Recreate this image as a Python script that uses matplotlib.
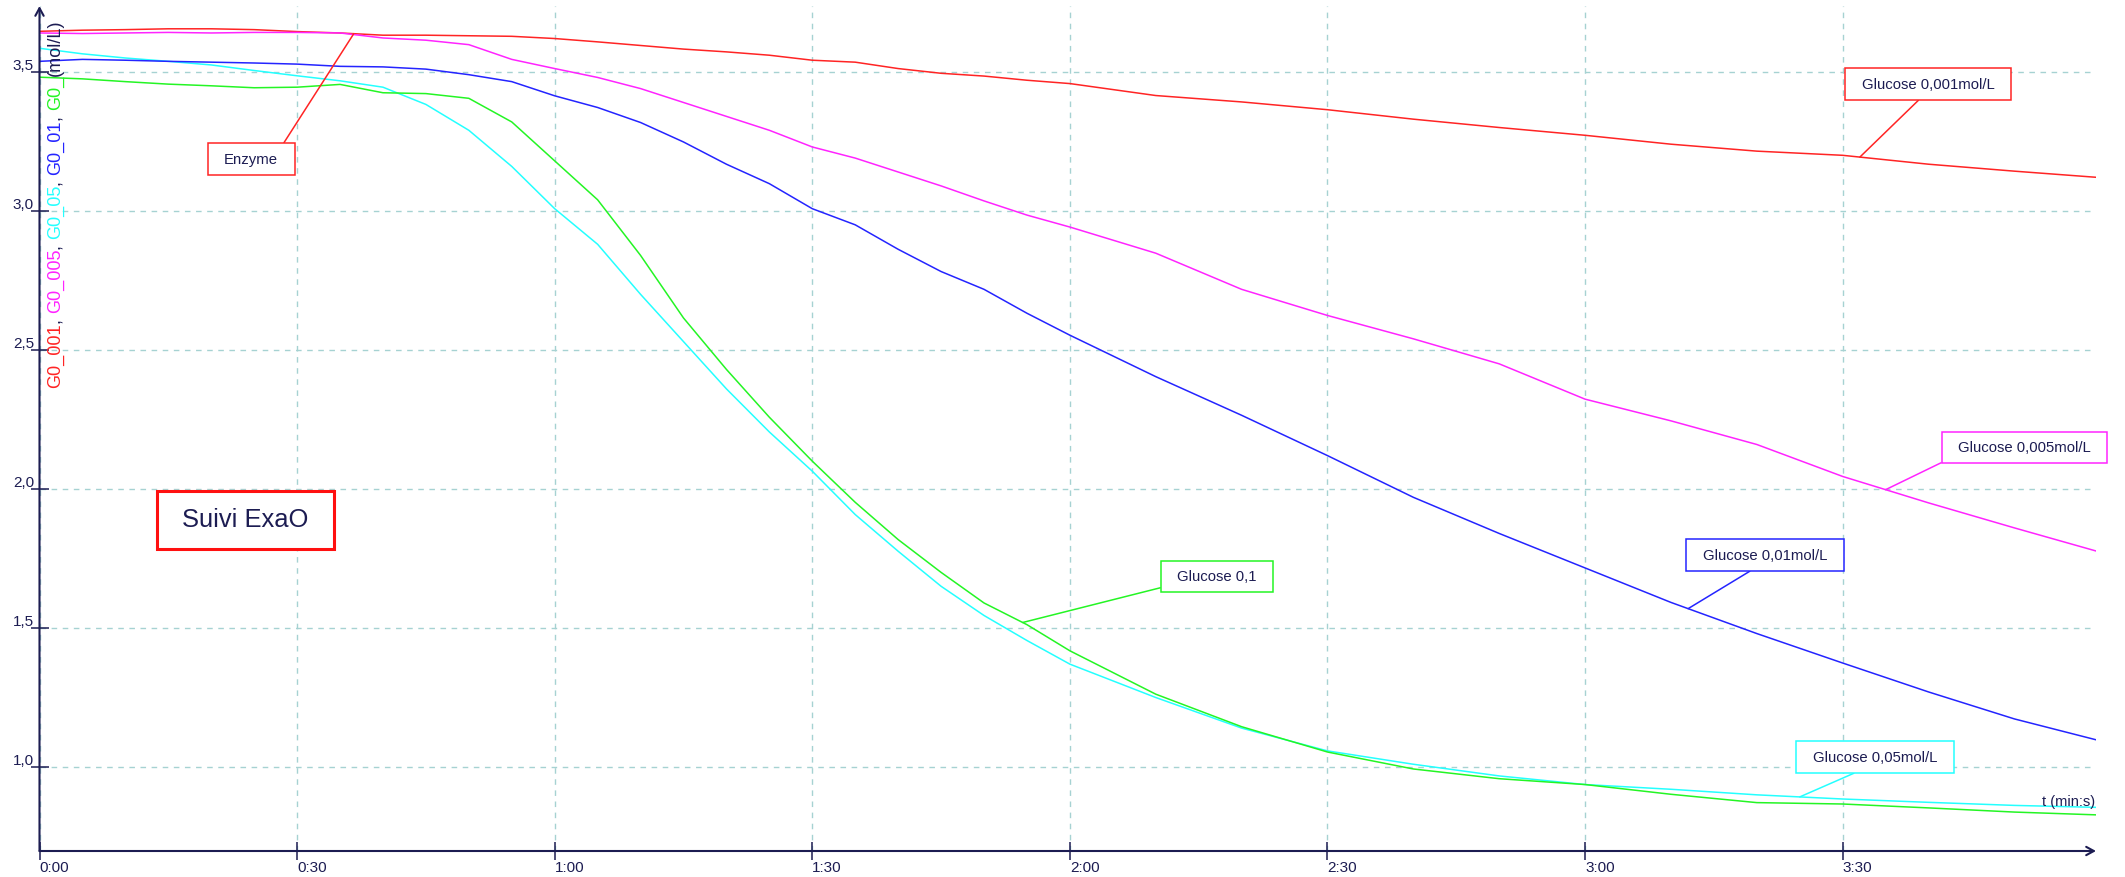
import numpy as np
import matplotlib
matplotlib.use("Agg")
import matplotlib.pyplot as plt
from matplotlib.path import Path
from matplotlib.transforms import IdentityTransform

plt.rcParams["font.family"] = ["Liberation Sans", "DejaVu Sans"]

# time in seconds, concentrations in mol/L
t_s = [0, 5, 10, 15, 20, 25, 30, 35, 40, 45, 50, 55, 60, 65, 70, 75, 80, 85, 90, 95,
       100, 105, 110, 115, 120, 130, 140, 150, 160, 170, 180, 190, 200, 210, 220, 230, 239.5]

g0_001 = [3.646, 3.650, 3.652, 3.655, 3.655, 3.652, 3.645, 3.640, 3.632, 3.632, 3.630, 3.628,
          3.620, 3.608, 3.595, 3.582, 3.572, 3.560, 3.542, 3.535, 3.512, 3.495, 3.485, 3.470,
          3.458, 3.415, 3.392, 3.364, 3.330, 3.300, 3.272, 3.240, 3.215, 3.200, 3.168, 3.143, 3.121]
g0_005 = [3.640, 3.638, 3.640, 3.642, 3.640, 3.642, 3.642, 3.640, 3.622, 3.614, 3.598, 3.545,
          3.512, 3.480, 3.440, 3.390, 3.340, 3.290, 3.230, 3.190, 3.140, 3.090, 3.036, 2.985,
          2.942, 2.848, 2.718, 2.624, 2.540, 2.450, 2.323, 2.245, 2.160, 2.045, 1.950, 1.860, 1.777]
g0_01 = [3.538, 3.545, 3.542, 3.538, 3.535, 3.532, 3.528, 3.520, 3.518, 3.510, 3.490, 3.465,
         3.414, 3.372, 3.318, 3.248, 3.168, 3.098, 3.008, 2.950, 2.862, 2.782, 2.718, 2.632,
         2.553, 2.404, 2.265, 2.120, 1.970, 1.840, 1.716, 1.592, 1.480, 1.374, 1.270, 1.173, 1.098]
g0_05 = [3.585, 3.565, 3.550, 3.538, 3.525, 3.505, 3.486, 3.468, 3.445, 3.383, 3.290, 3.160,
         3.008, 2.880, 2.700, 2.530, 2.360, 2.205, 2.064, 1.908, 1.776, 1.650, 1.545, 1.455,
         1.370, 1.250, 1.140, 1.058, 1.010, 0.968, 0.937, 0.920, 0.900, 0.885, 0.873, 0.862, 0.855]
g0_1 = [3.481, 3.475, 3.465, 3.456, 3.450, 3.443, 3.445, 3.455, 3.425, 3.422, 3.405, 3.320,
        3.180, 3.040, 2.840, 2.615, 2.430, 2.258, 2.100, 1.952, 1.818, 1.700, 1.590, 1.512,
        1.418, 1.262, 1.145, 1.054, 0.993, 0.958, 0.937, 0.902, 0.872, 0.867, 0.853, 0.838, 0.828]

x_ticks = [0, 30, 60, 90, 120, 150, 180, 210]
x_labels = ["0:00", "0:30", "1:00", "1:30", "2:00", "2:30", "3:00", "3:30"]
y_ticks = [1.0, 1.5, 2.0, 2.5, 3.0, 3.5]
y_labels = ["1,0", "1,5", "2,0", "2,5", "3,0", "3,5"]

RED, MAGENTA, BLUE, CYAN, GREEN = "#ff2424", "#ff24ff", "#2424ff", "#24ffff", "#24f524"
NAVY = "#1c1c52"

series = [(g0_001, RED), (g0_005, MAGENTA), (g0_05, CYAN), (g0_01, BLUE), (g0_1, GREEN)]

W, H, DPI = 2125, 878, 100
fig = plt.figure(figsize=(W / DPI, H / DPI), dpi=DPI)
ax = fig.add_axes([39.5 / W, 26 / H, (2096 - 39.5) / W, (852 - 7) / H])
ax.set_xlim(0, 239.5)
ax.set_ylim(0.698, 3.737)

for vals, col in series:
    ax.plot(t_s, vals, color=col, lw=1.1, zorder=3)

# grid + axes with arrow heads
ax.set_axisbelow(True)
ax.grid(True, color="#a6d2d2", linestyle=(0, (4, 4)), linewidth=1.0)
for sp in ax.spines.values():
    sp.set_visible(False)
arrow = dict(arrowstyle="->,head_length=0.55,head_width=0.3", color=NAVY, lw=1.5,
             shrinkA=0, shrinkB=0)
ax.annotate("", xy=(1, 0), xytext=(0, 0), xycoords="axes fraction", arrowprops=arrow,
            annotation_clip=False)
ax.annotate("", xy=(0, 1), xytext=(0, 0), xycoords="axes fraction", arrowprops=arrow,
            annotation_clip=False)

ax.set_xticks(x_ticks, labels=x_labels)
ax.set_yticks(y_ticks, labels=y_labels)
ax.tick_params(direction="inout", length=12.5, width=1.1, color=NAVY, labelcolor=NAVY,
               labelsize=11)
ax.tick_params(axis="x", pad=0)
ax.tick_params(axis="y", pad=-2.3)
for lab in ax.get_xticklabels():
    lab.set_ha("left")
for lab in ax.get_yticklabels():
    lab.set_va("bottom")


def pad_box(px, py):
    def style(x0, y0, width, height, mutation_size):
        return Path([(x0 - px, y0 - py), (x0 + width + px, y0 - py),
                     (x0 + width + px, y0 + height + py), (x0 - px, y0 + height + py),
                     (x0 - px, y0 - py)], closed=True)
    return style


def callout(text, t, vals, col, center, relpos):
    v = np.interp(t, t_s, vals)
    ax.annotate(text, xy=(t, v), xycoords="data", xytext=center, textcoords="figure pixels",
                ha="center", va="center", fontsize=10.7, color=NAVY, zorder=5,
                bbox=dict(boxstyle=pad_box(16.5, 8.7), fc="white", ec=col, lw=1.1),
                arrowprops=dict(arrowstyle="-", color=col, lw=1.1, relpos=relpos,
                                shrinkA=0, shrinkB=0))


callout("Enzyme", 36.6, g0_001, RED, (251, 718), (1, 1))
callout("Glucose 0,001mol/L", 212, g0_001, RED, (1928, 793), (0.5, 0))
callout("Glucose 0,005mol/L", 215, g0_005, MAGENTA, (2024.5, 429.5), (0, 0))
callout("Glucose 0,01mol/L", 192, g0_01, BLUE, (1765, 322), (0.5, 0))
callout("Glucose 0,05mol/L", 205, g0_05, CYAN, (1875, 120), (0.5, 0))
callout("Glucose 0,1", 114.5, g0_1, GREEN, (1217, 300.5), (0, 0))

fig.text(245.5, 357.5, "Suivi ExaO", fontsize=18.4, color=NAVY, ha="center", va="center",
         transform=IdentityTransform(),
         bbox=dict(boxstyle=pad_box(25.5, 17), fc="white", ec="#ff1010", lw=2.2))

fig.text(2095, 69, "t (min:s)", fontsize=10.5, color=NAVY, ha="right", va="bottom",
         transform=IdentityTransform())

# multicoloured vertical axis label
ylabel_parts = [("G0_001", RED), (",", NAVY), (" ", None), ("G0_005", MAGENTA), (",", NAVY),
                (" ", None), ("G0_05", CYAN), (",", NAVY), (" ", None), ("G0_01", BLUE),
                (",", NAVY), (" ", None), ("G0_", GREEN), ("(mol/L)", NAVY)]
renderer = fig.canvas.get_renderer()
space_px = 0.278 * 13.1 * DPI / 72
y_pos = 490.0
for text, col in ylabel_parts:
    if text == " ":
        y_pos += space_px
        continue
    txt = fig.text(55.5, y_pos, text, color=col, fontsize=13.1, rotation=90,
                   ha="center", va="bottom", transform=IdentityTransform())
    y_pos += txt.get_window_extent(renderer).height

fig.savefig("out.png", dpi=DPI)
